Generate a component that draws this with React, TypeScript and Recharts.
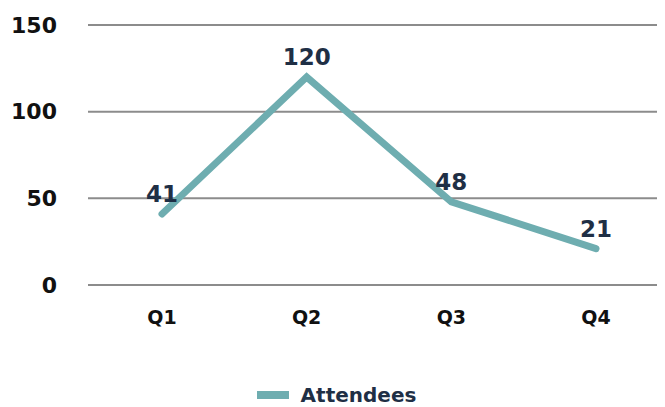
import React from 'react';
import { LineChart, Line, XAxis, YAxis, CartesianGrid, Legend, LabelList } from 'recharts';

const categories = ['Q1', 'Q2', 'Q3', 'Q4'];
const attendees = [41, 120, 48, 21];
const yTicks = [0, 50, 100, 150];

const data = categories.map((q, i) => ({ quarter: q, Attendees: attendees[i] }));

const FONT = '"DejaVu Sans", sans-serif';
const LINE = '#6eadb0';
const NAVY = '#1f2f45';

const renderLegend = (props: any) => {
  const { payload } = props;
  return (
    <div style={{ display: 'flex', justifyContent: 'center', alignItems: 'center', paddingTop: 4, height: 20 }}>
      {payload.map((p: any) => (
        <div key={p.value} style={{ display: 'flex', alignItems: 'center' }}>
          <svg width={32} height={8} style={{ marginRight: 12 }}>
            <rect x={0} y={0} width={32} height={8} fill={LINE} />
          </svg>
          <span style={{ fontFamily: FONT, fontWeight: 700, fontSize: 20, lineHeight: '20px', color: NAVY }}>{p.value}</span>
        </div>
      ))}
    </div>
  );
};

export default function App() {
  return (
    <div style={{ width: 657, height: 399, overflow: 'hidden' }}>
      <LineChart width={657} height={399} data={data} margin={{ top: 17, right: 0, left: 0, bottom: 0 }}>
        <CartesianGrid vertical={false} stroke="#8c8c8c" strokeWidth={2} />
        <XAxis
          dataKey="quarter"
          axisLine={false}
          tickLine={false}
          tickSize={0}
          tickMargin={26}
          height={96}
          padding={{ left: 74, right: 69 }}
          tick={{ fill: '#111', fontFamily: FONT, fontWeight: 700, fontSize: 19 }}
        />
        <YAxis
          domain={[0, 150]}
          ticks={yTicks}
          axisLine={false}
          tickLine={false}
          tickSize={0}
          tickMargin={31}
          width={80}
          tick={{ fill: '#111', fontFamily: FONT, fontWeight: 700, fontSize: 22 }}
        />
        <Legend verticalAlign="bottom" content={renderLegend} wrapperStyle={{ height: 26 }} />
        <Line
          dataKey="Attendees"
          stroke={LINE}
          strokeWidth={7}
          strokeLinecap="round"
          dot={false}
          activeDot={false}
          isAnimationActive={false}
        >
          <LabelList
            dataKey="Attendees"
            position="top"
            offset={12}
            fill={NAVY}
            style={{ fontFamily: FONT, fontWeight: 700, fontSize: 23 }}
          />
        </Line>
      </LineChart>
    </div>
  );
}
